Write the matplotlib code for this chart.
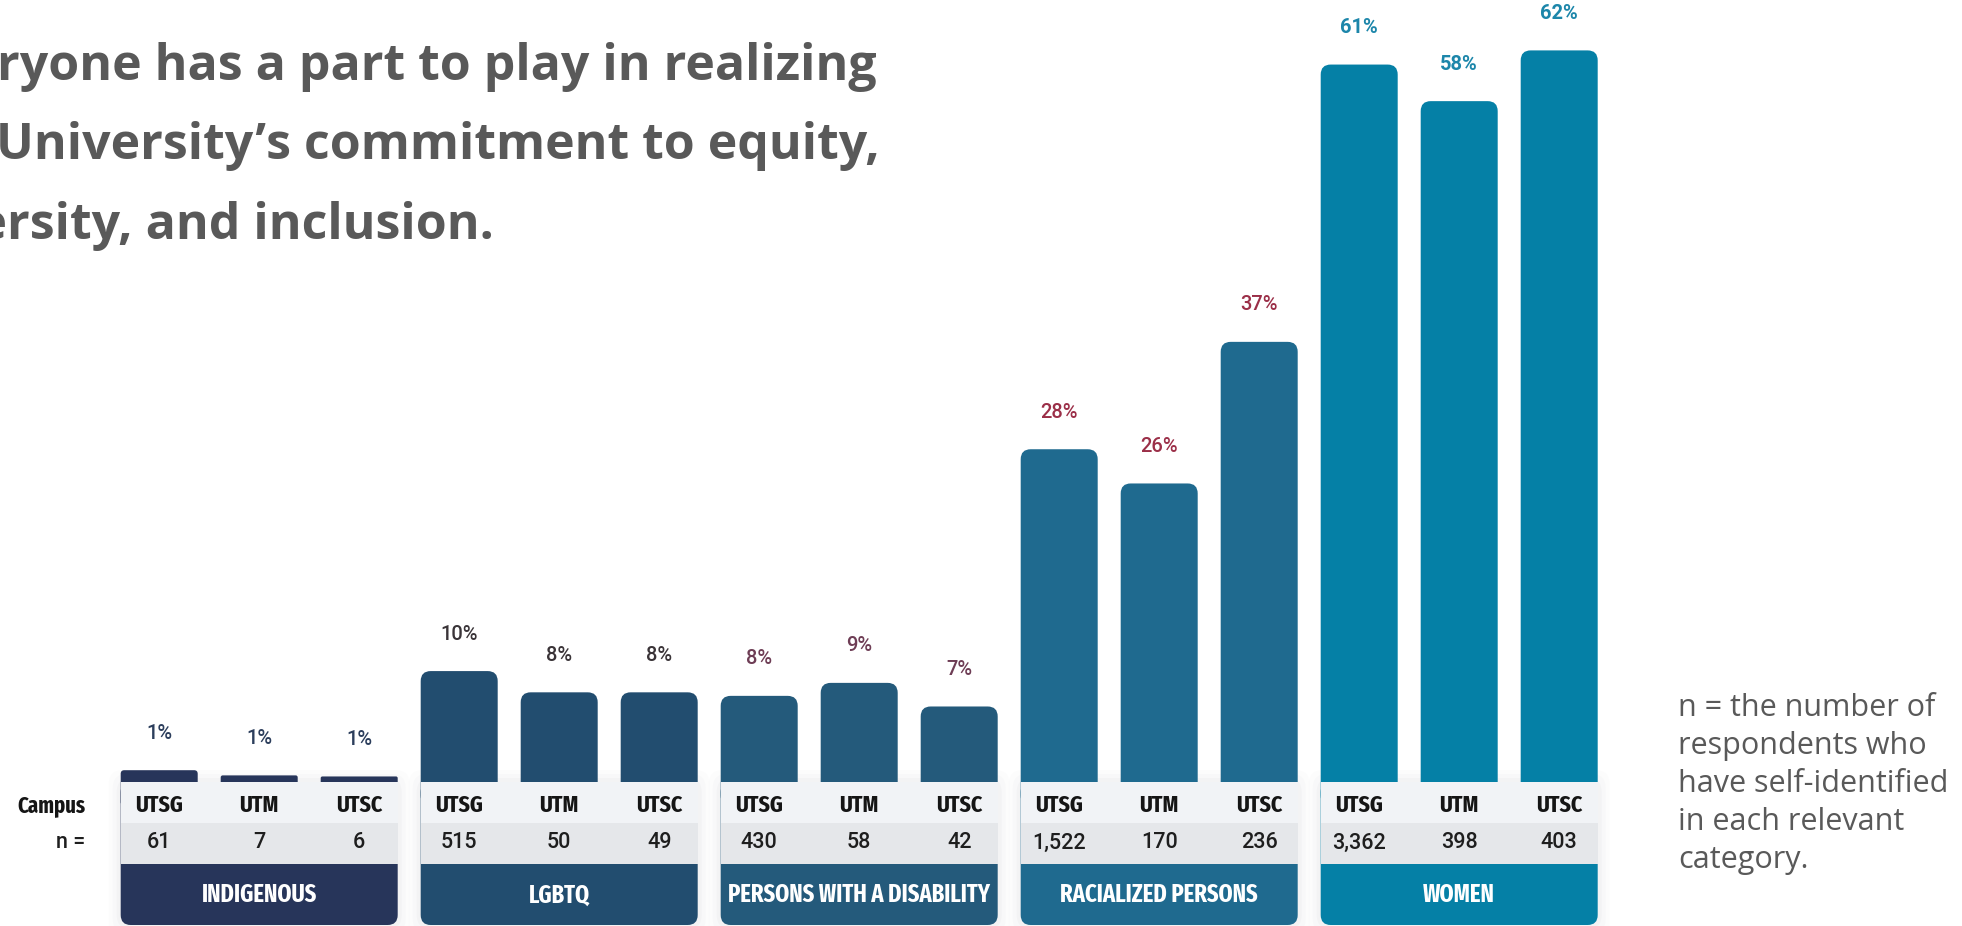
import matplotlib.pyplot as plt
from matplotlib import font_manager as fm
from matplotlib.textpath import TextPath
from matplotlib.patches import FancyBboxPatch, Rectangle

groups = ['INDIGENOUS', 'LGBTQ', 'PERSONS WITH A DISABILITY', 'RACIALIZED PERSONS', 'WOMEN']
campuses = ['UTSG', 'UTM', 'UTSC']
pct_labels = [[1, 1, 1], [10, 8, 8], [8, 9, 7], [28, 26, 37], [61, 58, 62]]
# bar lengths as drawn in the graphic (labels are rounded)
bar_values = [[1.0, 0.56, 0.47], [9.4, 7.6, 7.6], [7.3, 8.4, 6.4], [28.2, 25.3, 37.3], [60.8, 57.7, 62.0]]
n_counts = [['61', '7', '6'], ['515', '50', '49'], ['430', '58', '42'],
            ['1,522', '170', '236'], ['3,362', '398', '403']]

group_colors = ['#27355a', '#224d6f', '#245a7b', '#1f6a8f', '#0580a6']
label_colors = ['#2c3e5c', '#3a3438', '#6e3d55', '#9b2f48', '#1c86aa']

headline = ['Everyone has a part to play in realizing',
            'the University\u2019s commitment to equity,',
            'diversity, and inclusion.']
footnote = ['n = the number of', 'respondents who', 'have self-identified',
            'in each relevant', 'category.']

W, H = 1962, 926
PX = 11.8      # pixels per percentage point
BASE = 782     # baseline, pixels from top
BW = 0.77      # bar width (1 = bar pitch)
ASP = 100 / PX


# pick the narrowest bold face around for the campus / category labels
def narrow_rank(f):
    s = (f.fname + ' ' + f.name).replace(' ', '')
    if 'ExtraCondensed' in s or 'UltraCondensed' in s:
        return 0
    if 'SemiCondensed' in s:
        return 2
    if 'Condensed' in s or 'Narrow' in s:
        return 1
    return 9


cands = [f for f in fm.fontManager.ttflist
         if f.weight in (700, 'bold') and f.style == 'normal' and narrow_rank(f) < 9]
cands.sort(key=lambda f: (narrow_rank(f), 'Liberation' not in f.name))
cond = cands[0].fname if cands else None


def cfont(size):
    if cond:
        return fm.FontProperties(fname=cond, size=size)
    return fm.FontProperties(family=['Roboto', 'DejaVu Sans'], weight='bold', size=size)


fig = plt.figure(figsize=(W / 100, H / 100), dpi=100)
fig.patch.set_facecolor('white')
ax = fig.add_axes([0, 0, 1, 1])
ax.set_xlim(-1.592, (W - 159.2) / 100)
ax.set_ylim(-(H - BASE) / PX, BASE / PX)
ax.axis('off')


def size_for(text, width_px, cap_px):
    # font size giving the wanted cap height, capped by the wanted width
    ext = TextPath((0, 0), text, prop=cfont(100)).get_extents()
    cap = TextPath((0, 0), 'H', prop=cfont(100)).get_extents().height
    k = 100 / 72
    return min(cap_px / (cap / 100 * k), width_px / (ext.width / 100 * k))


band_size = size_for('PERSONS WITH A DISABILITY', 262, 17.5)
camp_size = size_for('UTSG', 48, 16.5)


def py(p):
    # pixel offset below the baseline -> data y
    return -p / PX


for g, name in enumerate(groups):
    x0 = 3 * g - BW / 2
    x1 = 3 * g + 2 + BW / 2
    col = group_colors[g]

    # soft shadow round the panel
    for k, a in [(0.12, 0.025), (0.08, 0.035), (0.04, 0.05)]:
        ax.add_patch(FancyBboxPatch((x0 - k, py(143) - k * ASP), x1 - x0 + 2 * k, -py(143) + 2 * k * ASP,
                                    boxstyle='round,pad=0,rounding_size=0.14', mutation_aspect=ASP,
                                    fc='#9aa0a8', ec='none', alpha=a, zorder=1))
    # panel: coloured band with rounded bottom, two grey rows on top
    ax.add_patch(FancyBboxPatch((x0, py(143)), x1 - x0, -py(143), boxstyle='round,pad=0,rounding_size=0.1',
                                mutation_aspect=ASP, fc=col, ec='none', zorder=3))
    ax.add_patch(Rectangle((x0, py(41)), x1 - x0, -py(41), fc='#f1f3f6', ec='none', zorder=4))
    ax.add_patch(Rectangle((x0, py(82)), x1 - x0, py(41) - py(82), fc='#e5e7ea', ec='none', zorder=4))
    ax.text(3 * g + 1, py(113), name, ha='center', va='center', color='white',
            fontproperties=cfont(band_size), zorder=5)

    for c in range(3):
        i = 3 * g + c
        v = bar_values[g][c]
        r = min(0.1, v * PX * 0.3 / 100)
        ax.add_patch(FancyBboxPatch((i - BW / 2, -2), BW, v + 2,
                                    boxstyle=f'round,pad=0,rounding_size={r}', mutation_aspect=ASP,
                                    fc=col, ec='none', zorder=2))
        ax.annotate(f'{pct_labels[g][c]}%', (i, v), xytext=(0, 26.6), textcoords='offset points',
                    ha='center', va='center', fontsize=14.5, color=label_colors[g],
                    fontweight='bold' if g == 4 else 'medium', family=['Roboto', 'DejaVu Sans'])
        ax.text(i, py(23), campuses[c], ha='center', va='center', color='#151515',
                fontproperties=cfont(camp_size), zorder=5)
        ax.text(i, py(61), n_counts[g][c], ha='center', va='center', fontsize=15.5, fontweight='medium',
                color='#1e1e1e', family=['Roboto', 'DejaVu Sans'], zorder=5)

ax.text(-0.742, py(23), 'Campus', ha='right', va='center', color='#151515',
        fontproperties=cfont(camp_size * 0.95))
ax.text(-0.742, py(61), 'n =', ha='right', va='center', fontsize=15.5, fontweight='medium',
        color='#1e1e1e', family=['Roboto', 'DejaVu Sans'])

# headline, cut off at the left edge as in the source
for txt, xr, yb in zip(headline, [877, 880, 494], [80, 159, 239]):
    fig.text(xr / W, 1 - yb / H, txt, ha='right', va='baseline', fontsize=36, fontweight='bold',
             color='#595959', family=['Open Sans', 'DejaVu Sans'])

for k, txt in enumerate(footnote):
    fig.text(1678 / W, 1 - (716 + 38 * k) / H, txt, ha='left', va='baseline', fontsize=22,
             color='#595959', family=['Open Sans', 'DejaVu Sans'])

fig.savefig('out.png', dpi=100, facecolor='white')
